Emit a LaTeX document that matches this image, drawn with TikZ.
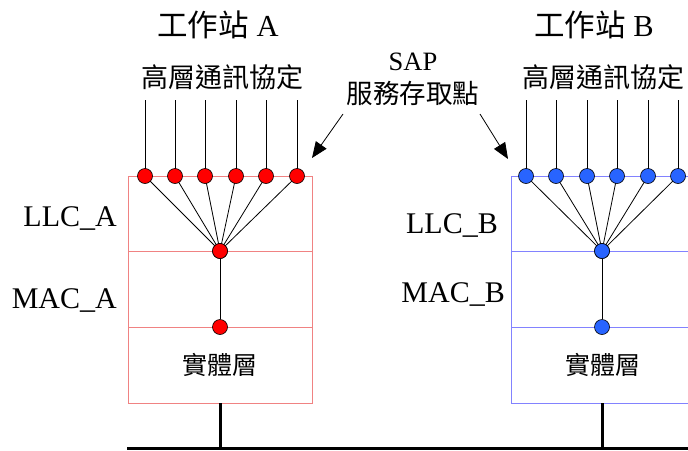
\documentclass[tikz,border=0pt]{standalone}
\usepackage{fontspec}
\setmainfont{Liberation Serif}
\newfontfamily\cjk{Noto Sans CJK TC}
\usetikzlibrary{arrows.meta}
\definecolor{boxA}{RGB}{240,130,130}
\definecolor{boxB}{RGB}{130,130,255}
\definecolor{dotA}{RGB}{255,0,0}
\definecolor{dotB}{RGB}{40,100,255}
\tikzset{
  dotnode/.style={circle,draw=black,line width=0.6pt,minimum size=15pt,inner sep=0pt},
  rdot/.style={dotnode,fill=dotA},
  bdot/.style={dotnode,fill=dotB},
  fan/.style={line width=0.8pt,black},
  bus/.style={line width=3pt,black},
  big/.style={font=\fontsize{30.5}{32}\selectfont,inner sep=0pt},
  hdr/.style={font=\fontsize{27}{30}\selectfont,inner sep=0pt},
  mid/.style={font=\fontsize{26.5}{28}\selectfont,inner sep=0pt},
  phy/.style={font=\fontsize{25}{28}\selectfont,inner sep=0pt},
  lab/.style={font=\fontsize{30}{32}\selectfont,inner sep=0pt,anchor=base east},
  sapar/.style={-{Triangle[length=16pt,width=13pt]},line width=0.8pt}
}
\begin{document}
\begin{tikzpicture}[x=1pt,y=-1pt]
\useasboundingbox (0,0) rectangle (688,450);
% Station A box
\draw[boxA,line width=1pt] (128,176) rectangle (312,403);
\draw[boxA,line width=1pt] (128,251) -- (312,251);
\draw[boxA,line width=1pt] (128,327) -- (312,327);
% Station B box
\draw[boxB,line width=1pt] (700,176) -- (511,176) -- (511,403) -- (700,403);
\draw[boxB,line width=1pt] (511,251) -- (700,251);
\draw[boxB,line width=1pt] (511,327) -- (700,327);
% titles
\node[big] (tA) at (218,25) {{\cjk 工作站} A};
\node[big] (tB) at (594,25) {{\cjk 工作站} B};
\node[hdr] (hA) at (222,77) {\cjk 高層通訊協定};
\node[hdr] (hB) at (603,77) {\cjk 高層通訊協定};
\node[mid] (sap) at (413,62) {SAP};
\node[mid] (sapc) at (413,93) {\cjk 服務存取點};
\node[phy] (pA) at (220,365) {\cjk 實體層};
\node[phy] (pB) at (603,365) {\cjk 實體層};
\node[lab] (llcA) at (117,226) {LLC\_A};
\node[lab] (macA) at (117,308) {MAC\_A};
\node[lab] (llcB) at (498,233) {LLC\_B};
\node[lab] (macB) at (505,302) {MAC\_B};
% bus
\coordinate (busL) at (127,448);
\coordinate (busR) at (690,448);
\coordinate (busA) at (220,448);
\coordinate (busB) at (602,448);
\coordinate (boxAb) at (220,403);
\coordinate (boxBb) at (602,403);
\draw[bus] (busL) -- (busR);
\draw[bus] (boxAb) -- (busA);
\draw[bus] (boxBb) -- (busB);
% Station A dots
\foreach \i/\x in {1/145,2/175,3/205,4/236,5/266,6/297}{
  \coordinate (at\i) at (\x,100);
  \draw[fan] (at\i) -- (\x,176);
}
\node[rdot] (ahub) at (220,251) {};
\node[rdot] (alow) at (220,327) {};
\draw[fan] (ahub) -- (alow);
\foreach \i/\x in {1/145,2/175,3/205,4/236,5/266,6/297}{
  \draw[fan] (\x,176) -- (ahub.center);
  \node[rdot] (a\i) at (\x,176) {};
}
\node[rdot] at (220,251) {};
% Station B dots
\foreach \i/\x in {1/526,2/556,3/587,4/617,5/648,6/678}{
  \coordinate (bt\i) at (\x,100);
  \draw[fan] (bt\i) -- (\x,176);
}
\node[bdot] (bhub) at (602,251) {};
\node[bdot] (blow) at (602,327) {};
\draw[fan] (bhub) -- (blow);
\foreach \i/\x in {1/526,2/556,3/587,4/617,5/648,6/678}{
  \draw[fan] (\x,176) -- (bhub.center);
  \node[bdot] (b\i) at (\x,176) {};
}
\node[bdot] at (602,251) {};
% SAP arrows
\coordinate (sapL) at (343,114);
\coordinate (sapR) at (480,114);
\coordinate (tipL) at (312,158);
\coordinate (tipR) at (508,159);
\draw[sapar] (sapL) -- (tipL);
\draw[sapar] (sapR) -- (tipR);
\end{tikzpicture}
\end{document}
